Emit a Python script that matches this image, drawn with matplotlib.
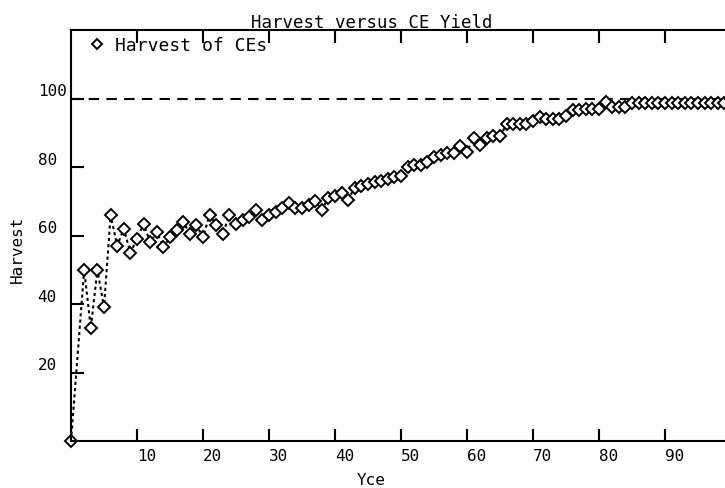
import matplotlib
matplotlib.use("Agg")
import matplotlib.pyplot as plt
from matplotlib.lines import Line2D

# Yce values (first point at 0, then 2..100)
yce = [0] + list(range(2, 101))
harvest = [
    0, 50, 33, 50, 39, 66, 57, 62, 55, 59,
    63.5, 58, 61, 56.5, 59.5, 61.5, 64, 60.5, 63, 59.5,
    66, 63, 60.5, 66, 63.5, 64.5, 65.5, 67.5, 64.5, 66,
    67, 68, 69.5, 68, 68, 69, 70, 67.5, 71, 71.5,
    72.5, 70.5, 74, 74.5, 75, 75.5, 76, 76.5, 77, 77.5,
    80, 80.5, 80.5, 81.5, 83, 83.5, 84, 84, 86, 84.5,
    88.5, 86.5, 88.5, 89, 89, 92.5, 92.5, 92.5, 92.5, 93.5,
    94.5, 94, 94, 94, 95, 96.5, 96.5, 97, 97, 97,
    99, 97.5, 97.5, 97.5, 98.8, 98.8, 98.8, 98.8, 98.8, 98.8,
    98.8, 98.8, 98.8, 98.8, 98.8, 98.8, 98.8, 98.8, 98.8, 100,
]
x_ticks = [10, 20, 30, 40, 50, 60, 70, 80, 90]
y_ticks = [20, 40, 60, 80, 100]

plt.rcParams['font.family'] = ['DejaVu Sans Mono']
plt.rcParams['font.size'] = 11

fig = plt.figure(figsize=(7.25, 4.89), dpi=100)
ax = fig.add_axes([71 / 725, 47 / 489, 660 / 725, 411 / 489])

ax.axhline(100, color='black', lw=1.5, ls=(0, (5, 3.5)))
ax.plot(yce, harvest, color='black', lw=1.5, ls=(0, (1.5, 1.5)),
        marker='D', markersize=6, markerfacecolor='white',
        markeredgecolor='black', markeredgewidth=1.4, clip_on=False)

ax.set_xlim(0, 100)
ax.set_ylim(0, 120)
ax.set_xticks(x_ticks)
ax.set_yticks(y_ticks)
ax.tick_params(direction='in', length=9, width=1.5, top=True,
               labelsize=11.5)
ax.tick_params(axis='x', pad=5)
ax.tick_params(axis='y', pad=24)
for lbl in ax.get_xticklabels():
    lbl.set_horizontalalignment('left')
for lbl in ax.get_yticklabels():
    lbl.set_horizontalalignment('left')
    lbl.set_verticalalignment('bottom')
for side in ['left', 'top', 'bottom', 'right']:
    ax.spines[side].set_linewidth(1.5)

ax.set_title('Harvest versus CE Yield', fontsize=12.5, x=0.456, y=1.007,
             pad=0)
ax.set_xlabel('Yce', fontsize=11.5)
ax.xaxis.set_label_coords(0.4545, -0.075)
ax.set_ylabel('Harvest', fontsize=11.5)
ax.yaxis.set_label_coords(-0.07, 0.468)

handle = Line2D([], [], ls='none', marker='D', markersize=5,
                markerfacecolor='white', markeredgecolor='black',
                markeredgewidth=1.4)
ax.legend([handle], ['Harvest of CEs'], loc='upper left', frameon=False,
          fontsize=13, handletextpad=0.4, handlelength=1.2,
          borderaxespad=0.55, borderpad=0.3, bbox_to_anchor=(0, 1.022))

fig.savefig('out.png', dpi=100)
